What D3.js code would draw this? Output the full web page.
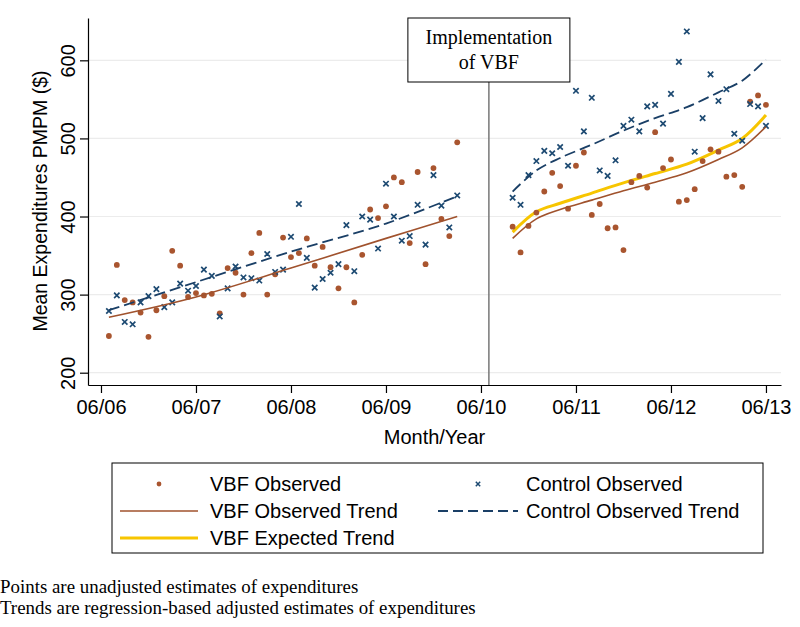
<!DOCTYPE html>
<html>
<head>
<meta charset="utf-8">
<script src="https://cdn.jsdelivr.net/npm/d3@7"></script>
<style>
  html, body { margin: 0; padding: 0; background: #fff; }
  svg { display: block; }
</style>
</head>
<body>
<svg id="chart" width="800" height="627"></svg>
<script>
// ---------------- data ----------------
// month index: 0 = June 2006
const xTickMonths = [0, 12, 24, 36, 48, 60, 72, 84];
const xTickLabels = ["06/06", "06/07", "06/08", "06/09", "06/10", "06/11", "06/12", "06/13"];
const yTicks = [200, 300, 400, 500, 600];

const preFirstMonth = 1;   // July 2006
const postFirstMonth = 52; // October 2010
const implementationMonth = 49; // July 2010

const vbfPre = [247, 338, 293, 290, 277, 246, 280, 298, 356, 337, 297, 302, 299, 301, 276, 334,
  328, 300, 353, 379, 300, 326, 373, 348, 353, 372, 337, 361, 335, 308, 335, 290, 351, 409, 398,
  413, 450, 444, 366, 457, 339, 462, 397, 375, 495];
const controlPre = [279, 299, 265, 262, 290, 298, 307, 284, 290, 314, 305, 311, 332, 324, 272, 308,
  336, 322, 321, 318, 352, 329, 332, 374, 416, 347, 309, 320, 328, 339, 389, 330, 400, 396, 359,
  442, 400, 369, 375, 415, 364, 453, 414, 386, 427];
const vbfPost = [387, 354, 388, 405, 432, 456, 439, 410, 465, 482, 402, 416, 385, 386, 357, 444,
  452, 437, 508, 462, 473, 419, 421, 435, 471, 486, 483, 451, 453, 438, 547, 555, 543];
const controlPost = [424, 415, 453, 471, 484, 481, 489, 465, 561, 509, 552, 459, 452, 472, 516, 524,
  509, 541, 543, 519, 557, 598, 637, 483, 526, 582, 548, 563, 506, 497, 544, 541, 516];

// trend lines read at selected months
const preTrendMonths = [1, 12, 24, 36, 45];
const vbfPreTrend = [271, 297, 334, 372, 400];
const controlPreTrend = [280, 316, 355, 391, 426];
const postTrendMonths = [52, 55, 58, 62, 66, 70, 74, 78, 81, 84];
const controlPostTrend = [432, 459, 475, 492, 510, 526, 540, 559, 574, 601];
const vbfPostTrend = [372, 397, 409, 421, 433, 444, 456, 473, 488, 515];
const vbfExpectedTrend = [380, 406, 417, 430, 443, 455, 467, 485, 500, 530];

// ---------------- styles ----------------
const C_VBF = "#a9552f";
const C_CTRL = "#1d4a72";
const C_VBF_LINE = "#a0522d";
const C_CTRL_LINE = "#1a3f66";
const C_EXP = "#f7c500";
const SANS = "'Liberation Sans', Arial, sans-serif";
const SERIF = "'Liberation Serif', 'Times New Roman', serif";

const svg = d3.select("#chart");
svg.append("rect").attr("width", 800).attr("height", 627).attr("fill", "#fff");

const x = d3.scaleLinear().domain([-1.64, 85.9]).range([88, 781]);
const y = d3.scaleLinear().domain([184.25, 654.2]).range([385, 18]);

// gridlines
svg.append("g").selectAll("line").data(yTicks).join("line")
  .attr("x1", 88).attr("x2", 781)
  .attr("y1", d => y(d)).attr("y2", d => y(d))
  .attr("stroke", "#ececec").attr("stroke-width", 1.2);

// axes
const yAxis = d3.axisLeft(y).tickValues(yTicks).tickSize(8).tickSizeOuter(0).tickFormat(d3.format("d"));
const gy = svg.append("g").attr("transform", "translate(88,0)").call(yAxis);
gy.select(".domain").attr("stroke", "#000").attr("stroke-width", 1.2);
gy.selectAll(".tick line").attr("stroke", "#000").attr("stroke-width", 1.2);
gy.selectAll(".tick text").remove();
gy.selectAll(".tick").append("text")
  .attr("transform", "translate(-13,0) rotate(-90)")
  .attr("text-anchor", "middle")
  .attr("font-family", SANS).attr("font-size", 20).attr("fill", "#000")
  .text(d => d);

const xAxis = d3.axisBottom(x).tickValues(xTickMonths).tickSize(8).tickSizeOuter(0)
  .tickFormat((d, i) => xTickLabels[i]);
const gx = svg.append("g").attr("transform", "translate(0,385)").call(xAxis);
gx.select(".domain").attr("stroke", "#000").attr("stroke-width", 1.2);
gx.selectAll(".tick line").attr("stroke", "#000").attr("stroke-width", 1.2);
gx.selectAll(".tick text").attr("font-family", SANS).attr("font-size", 20)
  .attr("fill", "#000").attr("dy", "0.71em").attr("y", 15);

// axis titles
svg.append("text").attr("x", 434.5).attr("y", 444).attr("text-anchor", "middle")
  .attr("font-family", SANS).attr("font-size", 20).text("Month/Year");
svg.append("text").attr("transform", "translate(47,201) rotate(-90)").attr("text-anchor", "middle")
  .attr("font-family", SANS).attr("font-size", 19.5).text("Mean Expenditures PMPM ($)");

// implementation line + box
svg.append("line").attr("x1", x(implementationMonth)).attr("x2", x(implementationMonth))
  .attr("y1", 82).attr("y2", 385).attr("stroke", "#777").attr("stroke-width", 1.5);
svg.append("rect").attr("x", x(implementationMonth) - 81).attr("y", 18).attr("width", 162).attr("height", 64)
  .attr("fill", "#fff").attr("stroke", "#000").attr("stroke-width", 1);
svg.append("text").attr("x", x(implementationMonth)).attr("y", 44).attr("text-anchor", "middle")
  .attr("font-family", SERIF).attr("font-size", 20).text("Implementation");
svg.append("text").attr("x", x(implementationMonth)).attr("y", 69).attr("text-anchor", "middle")
  .attr("font-family", SERIF).attr("font-size", 20).text("of VBF");

// series helpers
const toPts = (vals, start) => vals.map((v, i) => ({ m: start + i, v }));
const toKnots = (months, vals) => months.map((m, i) => ({ m, v: vals[i] }));
const line = d3.line().x(d => x(d.m)).y(d => y(d.v)).curve(d3.curveCatmullRom.alpha(0.5));

function drawLine(data, color, width, dash) {
  svg.append("path").datum(data).attr("d", line).attr("fill", "none")
    .attr("stroke", color).attr("stroke-width", width)
    .attr("stroke-dasharray", dash || null);
}
drawLine(toKnots(postTrendMonths, vbfExpectedTrend), C_EXP, 3);

function drawDots(data) {
  svg.append("g").selectAll("circle").data(data).join("circle")
    .attr("cx", d => x(d.m)).attr("cy", d => y(d.v)).attr("r", 2.9).attr("fill", C_VBF);
}
function drawX(data) {
  const s = 2.7;
  svg.append("g").selectAll("path").data(data).join("path")
    .attr("d", d => {
      const cx = x(d.m), cy = y(d.v);
      return `M${cx - s},${cy - s}L${cx + s},${cy + s}M${cx - s},${cy + s}L${cx + s},${cy - s}`;
    })
    .attr("stroke", C_CTRL).attr("stroke-width", 1.7).attr("fill", "none");
}
drawDots(toPts(vbfPre, preFirstMonth));
drawDots(toPts(vbfPost, postFirstMonth));
drawX(toPts(controlPre, preFirstMonth));
drawX(toPts(controlPost, postFirstMonth));

drawLine(toKnots(preTrendMonths, vbfPreTrend), C_VBF_LINE, 1.6);
drawLine(toKnots(postTrendMonths, vbfPostTrend), C_VBF_LINE, 1.6);
drawLine(toKnots(preTrendMonths, controlPreTrend), C_CTRL_LINE, 1.8, "11,5");
drawLine(toKnots(postTrendMonths, controlPostTrend), C_CTRL_LINE, 1.8, "11,5");

// legend
const lg = svg.append("g");
lg.append("rect").attr("x", 112).attr("y", 463).attr("width", 651).attr("height", 90)
  .attr("fill", "#fff").attr("stroke", "#000").attr("stroke-width", 1);
const legendItems = [
  { label: "VBF Observed", type: "dot", col: 0, row: 0 },
  { label: "Control Observed", type: "x", col: 1, row: 0 },
  { label: "VBF Observed Trend", type: "solid", col: 0, row: 1 },
  { label: "Control Observed Trend", type: "dash", col: 1, row: 1 },
  { label: "VBF Expected Trend", type: "yellow", col: 0, row: 2 }
];
const colSym = [[120, 198], [438, 518]];
const colText = [210, 526];
const rowY = [484, 511, 538];
legendItems.forEach(it => {
  const [a, b] = colSym[it.col];
  const cy = rowY[it.row];
  const cx = (a + b) / 2;
  if (it.type === "dot") {
    lg.append("circle").attr("cx", cx).attr("cy", cy).attr("r", 2.4).attr("fill", C_VBF);
  } else if (it.type === "x") {
    const s = 2.2;
    lg.append("path").attr("d", `M${cx - s},${cy - s}L${cx + s},${cy + s}M${cx - s},${cy + s}L${cx + s},${cy - s}`)
      .attr("stroke", C_CTRL).attr("stroke-width", 1.5);
  } else if (it.type === "solid") {
    lg.append("line").attr("x1", a).attr("x2", b).attr("y1", cy).attr("y2", cy)
      .attr("stroke", C_VBF_LINE).attr("stroke-width", 1.6);
  } else if (it.type === "dash") {
    lg.append("line").attr("x1", a).attr("x2", b).attr("y1", cy).attr("y2", cy)
      .attr("stroke", C_CTRL_LINE).attr("stroke-width", 1.8).attr("stroke-dasharray", "10,5");
  } else {
    lg.append("line").attr("x1", a).attr("x2", b).attr("y1", cy).attr("y2", cy)
      .attr("stroke", C_EXP).attr("stroke-width", 3);
  }
  lg.append("text").attr("x", colText[it.col]).attr("y", cy).attr("dy", "0.36em")
    .attr("font-family", SANS).attr("font-size", 20).text(it.label);
});

// notes
svg.append("text").attr("x", 0).attr("y", 593).attr("font-family", SERIF).attr("font-size", 18.9)
  .text("Points are unadjusted estimates of expenditures");
svg.append("text").attr("x", 0).attr("y", 614).attr("font-family", SERIF).attr("font-size", 18.9)
  .text("Trends are regression-based adjusted estimates of expenditures");
</script>
</body>
</html>
